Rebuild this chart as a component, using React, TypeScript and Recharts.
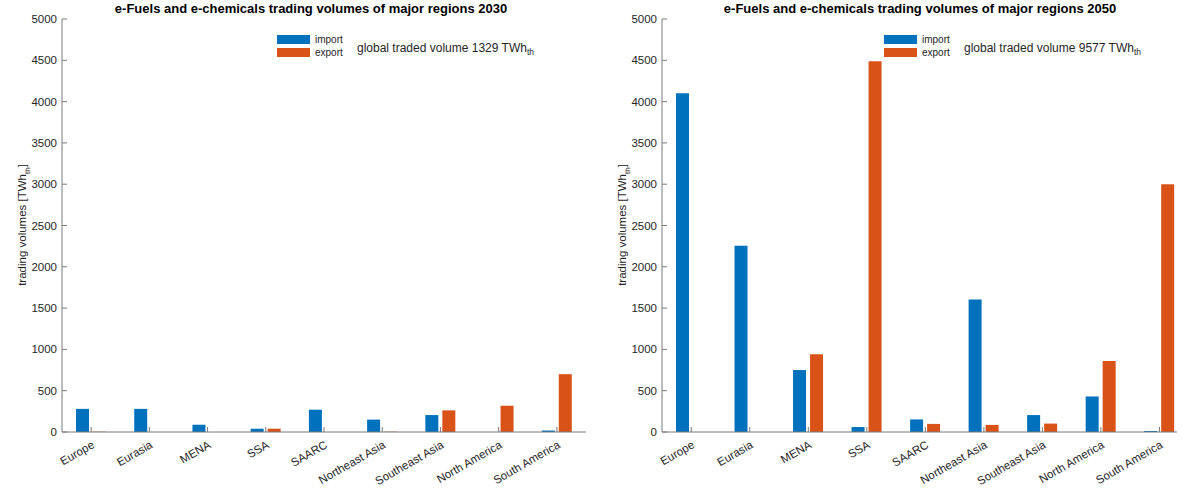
import { BarChart, Bar, XAxis, YAxis } from "recharts";

const regions = [
  "Europe",
  "Eurasia",
  "MENA",
  "SSA",
  "SAARC",
  "Northeast Asia",
  "Southeast Asia",
  "North America",
  "South America",
];

// TWh_th
const import2030 = [280, 280, 88, 38, 270, 150, 205, 0, 18];
const export2030 = [4, 0, 0, 40, 0, 4, 262, 318, 700];
const import2050 = [4100, 2255, 750, 60, 152, 1605, 205, 430, 12];
const export2050 = [0, 0, 940, 4490, 98, 86, 102, 860, 3000];

const yTicks = [0, 500, 1000, 1500, 2000, 2500, 3000, 3500, 4000, 4500, 5000];
const xTicks = [1, 2, 3, 4, 5, 6, 7, 8, 9];

const font = "'Liberation Sans', Arial, Helvetica, sans-serif";
const axisColor = "#7a7a7a";
const textColor = "#262626";

function Panel(props: {
  left: number;
  width: number;
  rightMargin: number;
  xMax: number;
  imports: number[];
  exports: number[];
  title: string;
  volume: string;
  titleX: number;
  legendX: number;
}) {
  const data = regions.map((r, i) => ({
    pos: i + 1,
    region: r,
    import: props.imports[i],
    export: props.exports[i],
  }));

  return (
    <div style={{ position: "absolute", left: props.left, top: 0, width: props.width, height: 491 }}>
      <BarChart
        width={props.width}
        height={491}
        data={data}
        margin={{ top: 19, right: props.rightMargin, bottom: 0, left: 0 }}
        barGap={4}
      >
        <XAxis
          xAxisId="b"
          dataKey="pos"
          type="number"
          domain={[0.5, props.xMax]}
          ticks={xTicks}
          interval={0}
          height={59}
          tickSize={-5}
          tickMargin={13}
          stroke={axisColor}
          tickFormatter={(v: number) => regions[v - 1]}
          tick={{ angle: -30, textAnchor: "end", fontSize: 11.5, fill: textColor }}
        />
        <XAxis
          xAxisId="t"
          orientation="top"
          dataKey="pos"
          type="number"
          domain={[0.5, props.xMax]}
          ticks={xTicks}
          height={0}
          tickSize={-5}
          stroke={axisColor}
          tickFormatter={() => ""}
        />
        <YAxis
          yAxisId="l"
          domain={[0, 5000]}
          ticks={yTicks}
          interval={0}
          width={62}
          tickSize={-5}
          tickMargin={10}
          stroke={axisColor}
          tick={{ fontSize: 11.5, fill: textColor }}
        />
        <YAxis
          yAxisId="r"
          orientation="right"
          domain={[0, 5000]}
          ticks={yTicks}
          interval={0}
          width={0}
          tickSize={-5}
          stroke={axisColor}
          tickFormatter={() => ""}
        />
        <Bar xAxisId="b" yAxisId="l" dataKey="import" fill="#0072BD" barSize={13} isAnimationActive={false} />
        <Bar xAxisId="b" yAxisId="l" dataKey="export" fill="#D95319" barSize={13} isAnimationActive={false} />
      </BarChart>

      <div
        style={{
          position: "absolute",
          left: props.titleX,
          top: 1,
          transform: "translateX(-50%)",
          fontSize: 13,
          fontWeight: "bold",
          whiteSpace: "nowrap",
          color: "#000",
        }}
      >
        {props.title}
      </div>

      <div
        style={{
          position: "absolute",
          left: 24,
          top: 225,
          transform: "translate(-50%, -50%) rotate(-90deg)",
          fontSize: 11.5,
          whiteSpace: "nowrap",
          color: textColor,
        }}
      >
        trading volumes [TWh<sub style={{ fontSize: 8 }}>th</sub>]
      </div>

      <div style={{ position: "absolute", left: props.legendX, top: 33, fontSize: 10, color: textColor }}>
        <div style={{ display: "flex", alignItems: "center", height: 13 }}>
          <div style={{ width: 33, height: 9, background: "#0072BD", marginRight: 5 }} />
          import
        </div>
        <div style={{ display: "flex", alignItems: "center", height: 13 }}>
          <div style={{ width: 33, height: 9, background: "#D95319", marginRight: 5 }} />
          export
        </div>
      </div>

      <div
        style={{
          position: "absolute",
          left: props.legendX + 80,
          top: 41,
          fontSize: 12,
          whiteSpace: "nowrap",
          color: textColor,
        }}
      >
        global traded volume {props.volume} TWh<sub style={{ fontSize: 8.5 }}>th</sub>
      </div>
    </div>
  );
}

export default function App() {
  return (
    <div
      style={{
        position: "absolute",
        left: 0,
        top: 0,
        width: 1188,
        height: 491,
        background: "#fff",
        fontFamily: font,
      }}
    >
      <Panel
        left={0}
        width={600}
        rightMargin={14}
        xMax={9.5}
        imports={import2030}
        exports={export2030}
        title="e-Fuels and e-chemicals trading volumes of major regions 2030"
        volume="1329"
        titleX={311}
        legendX={277}
      />
      <Panel
        left={600}
        width={588}
        rightMargin={11}
        xMax={9.3}
        imports={import2050}
        exports={export2050}
        title="e-Fuels and e-chemicals trading volumes of major regions 2050"
        volume="9577"
        titleX={320}
        legendX={284}
      />
    </div>
  );
}
